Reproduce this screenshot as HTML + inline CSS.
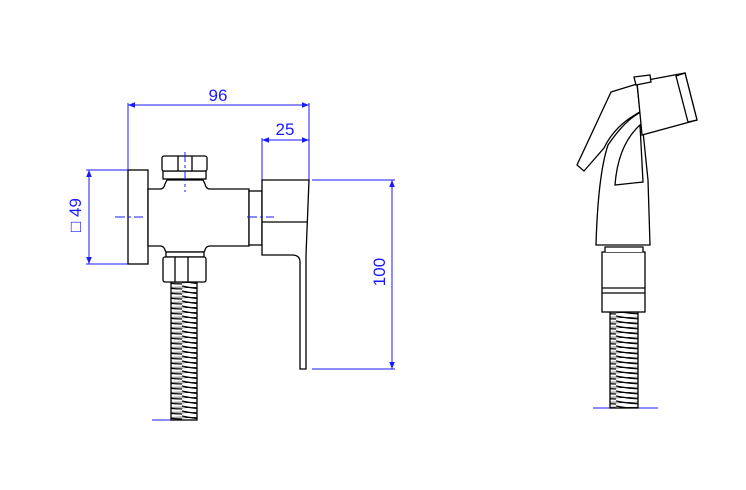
<!DOCTYPE html>
<html><head><style>
html,body{margin:0;padding:0;background:#fff;}
svg{display:block;}
text{font-family:"Liberation Sans",sans-serif;fill:#1a1aff;}
</style></head><body>
<svg width="746" height="490" viewBox="0 0 746 490" xmlns="http://www.w3.org/2000/svg">
<defs>
<marker id="a" viewBox="0 0 10 10" refX="10" refY="5" markerWidth="9" markerHeight="7" orient="auto-start-reverse" markerUnits="userSpaceOnUse"><path d="M0,1 L10,5 L0,9 z" fill="#1a1aff"/></marker>
<pattern id="coil" width="26" height="5" patternUnits="userSpaceOnUse"><path d="M0,1 Q13,4 26,4" stroke="#000" stroke-width="1.2" fill="none"/><path d="M0,3 Q13,2 26,2" stroke="#000" stroke-width="0.5" fill="none"/></pattern>
<pattern id="coil2" width="28" height="5" patternUnits="userSpaceOnUse"><path d="M0,1 Q14,4 28,4" stroke="#000" stroke-width="1.2" fill="none"/><path d="M0,3 Q14,2 28,2" stroke="#000" stroke-width="0.5" fill="none"/></pattern>
</defs>
<g stroke="#1a1aff" stroke-width="1" fill="none">
<line x1="128" y1="103" x2="128" y2="170"/><line x1="309" y1="103" x2="309" y2="180"/>
<line x1="128" y1="105" x2="309" y2="105" marker-start="url(#a)" marker-end="url(#a)"/>
<line x1="262" y1="138" x2="262" y2="180"/>
<line x1="262" y1="140" x2="309" y2="140" marker-start="url(#a)" marker-end="url(#a)"/>
<line x1="86" y1="170" x2="128" y2="170"/><line x1="86" y1="264" x2="128" y2="264"/>
<line x1="89" y1="170" x2="89" y2="264" marker-start="url(#a)" marker-end="url(#a)"/>
<line x1="312" y1="180" x2="395" y2="180"/><line x1="312" y1="369" x2="395" y2="369"/>
<line x1="392" y1="180" x2="392" y2="369" marker-start="url(#a)" marker-end="url(#a)"/>
<line x1="152" y1="420" x2="190" y2="420"/>
<line x1="593" y1="408" x2="658" y2="408"/>
</g>
<text x="218" y="101" font-size="17" text-anchor="middle">96</text>
<text x="285" y="135" font-size="17" text-anchor="middle">25</text>
<text transform="translate(81,215) rotate(-90)" font-size="17" text-anchor="middle">□ 49</text>
<text transform="translate(385,272) rotate(-90)" font-size="17" text-anchor="middle">100</text>
<g stroke="#000" stroke-width="1.3" fill="#fff">
<rect x="171" y="282" width="26" height="138" fill="url(#coil)"/>
<rect x="128" y="170" width="20" height="94"/>
<path d="M148,189 H160 Q164,189 165,184 L167,180 H203 L205,184 Q206,189 210,189 H249 V246 H210 Q206,246 205,250 L204,252 H166 L165,250 Q164,246 160,246 H148 Z"/>
<rect x="249" y="191" width="13" height="54"/>
<rect x="163" y="171" width="43" height="8"/>
<rect x="162" y="156" width="45" height="15" rx="2"/>
<line x1="178" y1="156" x2="178" y2="171"/><line x1="192" y1="156" x2="192" y2="171"/>
<rect x="166" y="252" width="38" height="5"/>
<rect x="163" y="257" width="43" height="25" rx="2"/>
<line x1="175" y1="257" x2="175" y2="282"/><line x1="188" y1="257" x2="188" y2="282"/>
<path d="M262,180 H309 L306,255 V369 H300 V262 Q300,255 292,255 H262 Z"/>
<line x1="262" y1="222" x2="307" y2="222"/>
<rect x="610" y="312" width="28" height="96" fill="url(#coil2)"/>
<rect x="602" y="252" width="43" height="60"/>
<line x1="602" y1="288" x2="645" y2="288"/><line x1="602" y1="293" x2="645" y2="293"/>
<path d="M605,252 V247 H643 V252"/>
<path d="M596,245 Q598,175 608,145 Q625,120 641,112 L648,180 L650,245 Z"/>
<path d="M615,185 Q618,145 640,125 L643,182 Z"/>
<path d="M611,92 L637,84 L640,112 Q615,125 604,148 L584,171 L577,165 Z"/>
<path d="M637,82 L685,73 L697,120 L642,135 Z"/>
<path d="M676,76 L685,73 L697,120 L688,122 Z"/>
<path d="M634,77 L650,75 L651,82 L636,85 Z"/>
</g>
<g stroke="#1a1aff" stroke-width="1" fill="none" stroke-dasharray="10,3,3,3">
<line x1="115" y1="217" x2="143" y2="217"/><line x1="247" y1="217" x2="274" y2="217"/><line x1="185" y1="152" x2="185" y2="192"/>
</g>
</svg>
</body></html>
